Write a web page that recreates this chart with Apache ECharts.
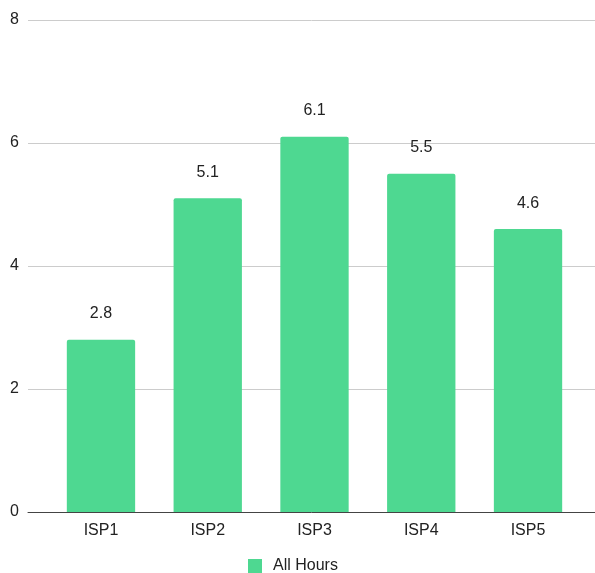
<!DOCTYPE html>
<html>
<head>
<meta charset="utf-8">
<script src="https://cdn.jsdelivr.net/npm/echarts@6/dist/echarts.min.js"></script>
<style>
  html, body { margin: 0; padding: 0; background: #fff; }
  #chart { width: 595px; height: 573px; }
</style>
</head>
<body>
<div id="chart"></div>
<script>
  var categories = ['ISP1', 'ISP2', 'ISP3', 'ISP4', 'ISP5'];
  var allHours = [2.8, 5.1, 6.1, 5.5, 4.6];
  var yTicks = [0, 2, 4, 6, 8];

  var chart = echarts.init(document.getElementById('chart'));
  var font = 'Arial, "Liberation Sans", Helvetica, sans-serif';
  chart.setOption({
    animation: false,
    textStyle: { fontFamily: font },
    legend: {
      top: 558,
      left: 248,
      padding: 0,
      icon: 'rect',
      itemWidth: 14,
      itemHeight: 14,
      itemGap: 10,
      textStyle: { fontSize: 16, color: '#222', fontFamily: font, padding: [0, 0, 0, 6] },
      data: ['All Hours']
    },
    grid: [
      { left: 28, right: 0, top: 20, bottom: 61 },
      { left: 47.6, right: 13.6, top: 20, bottom: 61 }
    ],
    xAxis: [
      {
        type: 'value', gridIndex: 0, min: 0, max: 1,
        axisLine: { show: true, onZero: false, lineStyle: { color: '#444', width: 1 } },
        axisTick: { show: false }, axisLabel: { show: false }, splitLine: { show: false }
      },
      {
        type: 'category', gridIndex: 1, data: categories,
        axisLine: { show: false }, axisTick: { show: false },
        axisLabel: { fontSize: 16, color: '#222', margin: 11, fontFamily: font }
      }
    ],
    yAxis: [
      {
        type: 'value', gridIndex: 0, min: yTicks[0], max: yTicks[yTicks.length - 1], interval: 2,
        axisLine: { show: false }, axisTick: { show: false },
        axisLabel: { fontSize: 16, color: '#222', margin: 9, fontFamily: font },
        splitLine: { lineStyle: { color: '#cccccc', width: 1 } }
      },
      {
        type: 'value', gridIndex: 1, min: yTicks[0], max: yTicks[yTicks.length - 1], interval: 2,
        show: false
      }
    ],
    series: [
      {
        name: 'All Hours',
        type: 'bar',
        xAxisIndex: 1,
        yAxisIndex: 1,
        data: allHours,
        barWidth: '64%',
        itemStyle: { color: '#4ED891', borderRadius: [2, 2, 0, 0] },
        label: {
          show: true, position: 'top', distance: 18,
          fontSize: 16, color: '#222', fontFamily: font,
          formatter: function (p) { return p.value.toFixed(1); }
        }
      }
    ]
  });
</script>
</body>
</html>
